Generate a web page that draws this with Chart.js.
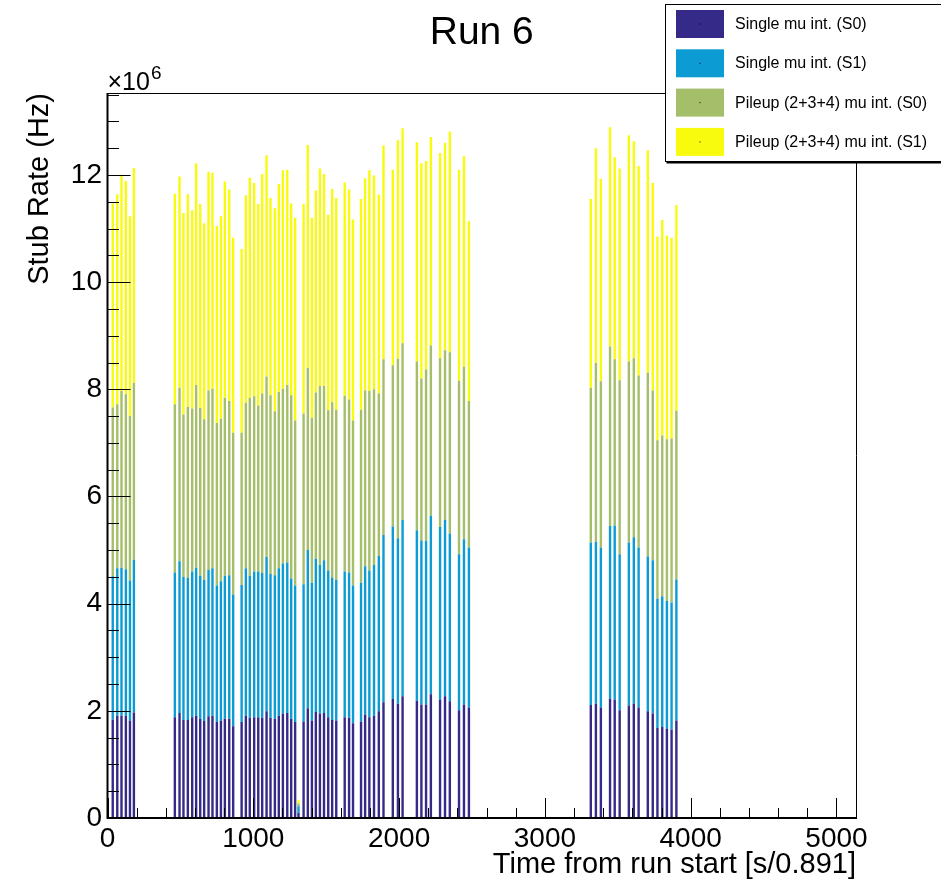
<!DOCTYPE html>
<html><head><meta charset="utf-8">
<script src="https://cdn.jsdelivr.net/npm/chart.js@4.4.1/dist/chart.umd.min.js"></script>
<style>html,body{margin:0;padding:0;background:#fff}canvas{display:block}</style>
</head><body>
<canvas id="c" width="941" height="884"></canvas>
<script>
// ---- data (time bin centres in s/0.891, rates in units of 10^6 Hz) ----
const timeBins = [36,67,96,126,154,181,
  462,494,521,551,581,608,636,663,693,720,750,778,805,835,862,
  920,949,976,1006,1034,1061,1091,1118,1148,1175,1203,1233,1260,1287,1310,
  1345,1374,1402,1429,1457,1485,1514,1541,1569,
  1627,1657,1684,
  1739,1767,1796,1828,1861,1893,
  1957,1992,2024,
  2122,2153,2185,2218,
  2281,2315,2348,
  2411,2445,2479,
  3315,3350,3384,
  3447,3479,3513,
  3576,3610,3643,
  3706,3740,
  3772,3805,3837,3869,3902];

const singleS0 = [1.84,1.91,1.91,1.91,1.82,1.97,
  1.88,1.96,1.83,1.83,1.88,1.91,1.85,1.81,1.90,1.91,1.79,1.82,1.85,1.85,1.71,
  1.79,1.91,1.87,1.88,1.88,1.87,1.99,1.87,1.85,1.91,1.95,1.96,1.85,1.79,0.10,
  1.80,2.05,1.82,1.98,1.95,1.96,1.88,1.83,1.82,
  1.88,1.87,1.77,
  1.80,1.93,1.88,1.91,1.99,2.16,
  2.22,2.13,2.27,
  2.19,2.12,2.12,2.31,
  2.21,2.27,2.18,
  2.01,2.12,2.06,
  2.11,2.13,2.06,
  2.23,2.21,2.01,
  2.10,2.13,2.06,
  1.99,1.95,
  1.68,1.70,1.67,1.65,1.82];

const singleS1 = [2.67,2.75,2.76,2.73,2.61,2.85,
  2.70,2.83,2.67,2.65,2.72,2.76,2.67,2.63,2.73,2.75,2.55,2.60,2.67,2.68,2.46,
  2.56,2.75,2.65,2.72,2.72,2.70,2.88,2.69,2.68,2.75,2.80,2.81,2.62,2.55,0.12,
  2.56,2.95,2.57,2.86,2.77,2.85,2.74,2.66,2.62,
  2.72,2.71,2.57,
  2.59,2.77,2.74,2.81,2.90,3.12,
  3.22,3.09,3.29,
  3.18,3.06,3.05,3.33,
  3.22,3.29,3.13,
  2.91,3.08,2.99,
  3.03,3.02,2.99,
  3.22,3.25,2.91,
  3.04,3.11,2.99,
  2.89,2.86,
  2.41,2.44,2.38,2.37,2.63];

const pileupS0 = [3.15,3.06,3.30,3.27,3.07,3.30,
  3.14,3.24,3.03,3.19,3.04,3.41,3.13,3.00,3.35,3.35,3.03,3.03,3.32,3.25,3.02,
  2.84,3.09,3.32,3.27,3.10,3.35,3.37,3.33,3.06,3.29,3.26,3.31,3.42,3.08,0.05,
  3.19,3.40,3.08,3.10,3.34,3.25,2.99,3.27,3.18,
  3.28,3.23,3.08,
  3.23,3.28,3.35,3.28,3.03,3.28,
  3.01,3.35,3.30,
  3.15,3.02,3.20,3.18,
  3.15,3.17,3.38,
  3.24,3.22,2.73,
  2.89,3.34,3.10,
  3.35,3.10,3.25,
  3.38,3.34,3.21,
  3.43,3.17,
  2.96,3.00,3.02,3.06,3.15];

const pileupS1 = [3.81,3.92,4.04,3.98,3.73,4.01,
  3.93,3.94,3.76,3.97,3.70,4.14,3.81,3.66,4.08,4.03,3.68,3.78,4.04,3.95,3.64,
  3.43,3.87,4.11,3.98,3.76,4.10,4.13,3.68,3.79,3.88,4.08,4.02,3.58,3.78,0.06,
  3.91,4.16,3.73,3.77,4.06,3.96,3.65,3.98,3.95,
  3.98,3.92,3.75,
  3.93,3.96,4.12,3.99,3.71,3.99,
  3.65,4.08,4.01,
  4.09,4.02,3.89,3.89,
  3.83,3.87,4.12,
  3.94,3.93,3.36,
  3.52,4.01,3.78,
  4.09,3.77,3.95,
  4.22,4.05,3.91,
  4.15,3.87,
  3.80,4.02,3.80,3.75,3.84];

const seriesLabels = ['Single mu int. (S0)', 'Single mu int. (S1)', 'Pileup (2+3+4) mu int. (S0)', 'Pileup (2+3+4) mu int. (S1)'];
const xTickValues = [0, 1000, 2000, 3000, 4000, 5000];
const yTickValues = [0, 2, 4, 6, 8, 10, 12];
const chartTitle = 'Run 6';
const xTitle = 'Time from run start [s/0.891]';
const yTitle = 'Stub Rate (Hz)';
const yExponent = '6';

// ---- styling ----
const FONT = '"Liberation Sans", Arial, Helvetica, sans-serif';
const colors = ['#352A87', '#0C9BD2', '#A5BE6A', '#F9FB0E'];
const seriesValues = [singleS0, singleS1, pileupS0, pileupS1];

Chart.defaults.font.family = FONT;
Chart.defaults.color = '#000';

const rootDecor = {
  id: 'rootDecor',
  afterDatasetsDraw(chart) {
    const {ctx, chartArea: a, scales: {x, y}} = chart;
    ctx.save();
    ctx.strokeStyle = '#000';
    // frame
    ctx.lineWidth = 1;
    ctx.beginPath();
    ctx.moveTo(a.left, a.top + 0.5); ctx.lineTo(a.right + 0.5, a.top + 0.5);
    ctx.moveTo(a.right + 0.5, a.top); ctx.lineTo(a.right + 0.5, a.bottom);
    ctx.stroke();
    ctx.lineWidth = 2;
    ctx.beginPath();
    ctx.moveTo(a.left, a.top); ctx.lineTo(a.left, a.bottom);
    ctx.moveTo(a.left - 1, a.bottom); ctx.lineTo(a.right + 1, a.bottom);
    ctx.stroke();
    // ticks (inward)
    ctx.lineWidth = 1;
    ctx.beginPath();
    for (let v = 0; v <= y.max + 1e-9; v += 0.5) {
      const py = Math.round(y.getPixelForValue(v)) + 0.5;
      const len = (Math.abs(v % 2) < 1e-9) ? 23 : 11.5;
      ctx.moveTo(a.left, py); ctx.lineTo(a.left + len, py);
    }
    for (let v = 0; v <= x.max; v += 200) {
      const px = Math.round(x.getPixelForValue(v)) + 0.5;
      const len = (v % 1000 === 0) ? 20 : 10;
      ctx.moveTo(px, a.bottom); ctx.lineTo(px, a.bottom - len);
    }
    ctx.stroke();
    // exponent label
    ctx.fillStyle = '#000';
    ctx.textBaseline = 'alphabetic';
    ctx.textAlign = 'left';
    ctx.font = '25px ' + FONT;
    const base = '\u00d710';
    ctx.fillText(base, a.left, 90);
    const w = ctx.measureText(base).width;
    ctx.font = '19px ' + FONT;
    ctx.fillText(yExponent, a.left + w + 1, 79);
    // legend box
    const lx = 665.5, ly = 4.5, lw = 300, lh = 157;
    ctx.fillStyle = '#fff';
    ctx.fillRect(lx, ly, lw, lh);
    ctx.lineWidth = 1;
    ctx.strokeRect(lx, ly, lw, lh);
    ctx.lineWidth = 2;
    ctx.beginPath(); ctx.moveTo(lx + 1, ly + lh + 1); ctx.lineTo(941, ly + lh + 1); ctx.stroke();
    chart.data.datasets.forEach((ds, k) => {
      const top = 10 + k * 39.3;
      ctx.fillStyle = ds.backgroundColor;
      ctx.fillRect(676, top, 48, 28);
      ctx.fillStyle = '#000';
      ctx.fillRect(699.5, top + 13.5, 1, 1);
      ctx.font = '16px ' + FONT;
      ctx.textBaseline = 'middle';
      ctx.fillText(ds.label, 735, top + 14.5);
    });
    ctx.restore();
  }
};

new Chart(document.getElementById('c'), {
  type: 'bar',
  data: {
    datasets: seriesLabels.map((lab, k) => ({
      label: lab,
      data: timeBins.map((t, i) => ({x: t, y: seriesValues[k][i]})),
      backgroundColor: colors[k],
      borderWidth: 0,
      inflateAmount: 0,
      barThickness: 2.4
    }))
  },
  options: {
    responsive: false,
    animation: false,
    devicePixelRatio: 1,
    layout: {padding: {top: 0, right: 85, bottom: 0, left: 0}},
    plugins: {
      legend: {display: false},
      tooltip: {enabled: false},
      title: {
        display: true, text: chartTitle, fullSize: false, color: '#000',
        font: {size: 39, weight: 'normal', family: FONT},
        padding: {top: 9.6, bottom: 36.6}
      }
    },
    scales: {
      x: {
        type: 'linear', stacked: true, min: 0, max: 5134, offset: false,
        grid: {display: false, drawTicks: false, tickLength: 0}, border: {display: false},
        afterBuildTicks: s => { s.ticks = xTickValues.map(v => ({value: v})); },
        afterFit: s => { s.height = 66; },
        ticks: {font: {size: 28}, color: '#000', padding: 4, maxRotation: 0, autoSkip: false,
          callback: v => String(v)},
        title: {display: true, text: xTitle, align: 'end', color: '#000',
          font: {size: 29}, padding: {top: 0, bottom: 2}}
      },
      y: {
        type: 'linear', stacked: true, min: 0, max: 13.53,
        grid: {display: false, drawTicks: false, tickLength: 0}, border: {display: false},
        afterBuildTicks: s => { s.ticks = yTickValues.map(v => ({value: v})); },
        afterFit: s => { s.width = 107.5; },
        ticks: {font: {size: 28}, color: '#000', padding: 5.5, autoSkip: false,
          callback: v => String(v)},
        title: {display: true, text: yTitle, align: 'end', color: '#000',
          font: {size: 29}, padding: {top: 23, bottom: 0}}
      }
    }
  },
  plugins: [rootDecor]
});
</script>
</body></html>
